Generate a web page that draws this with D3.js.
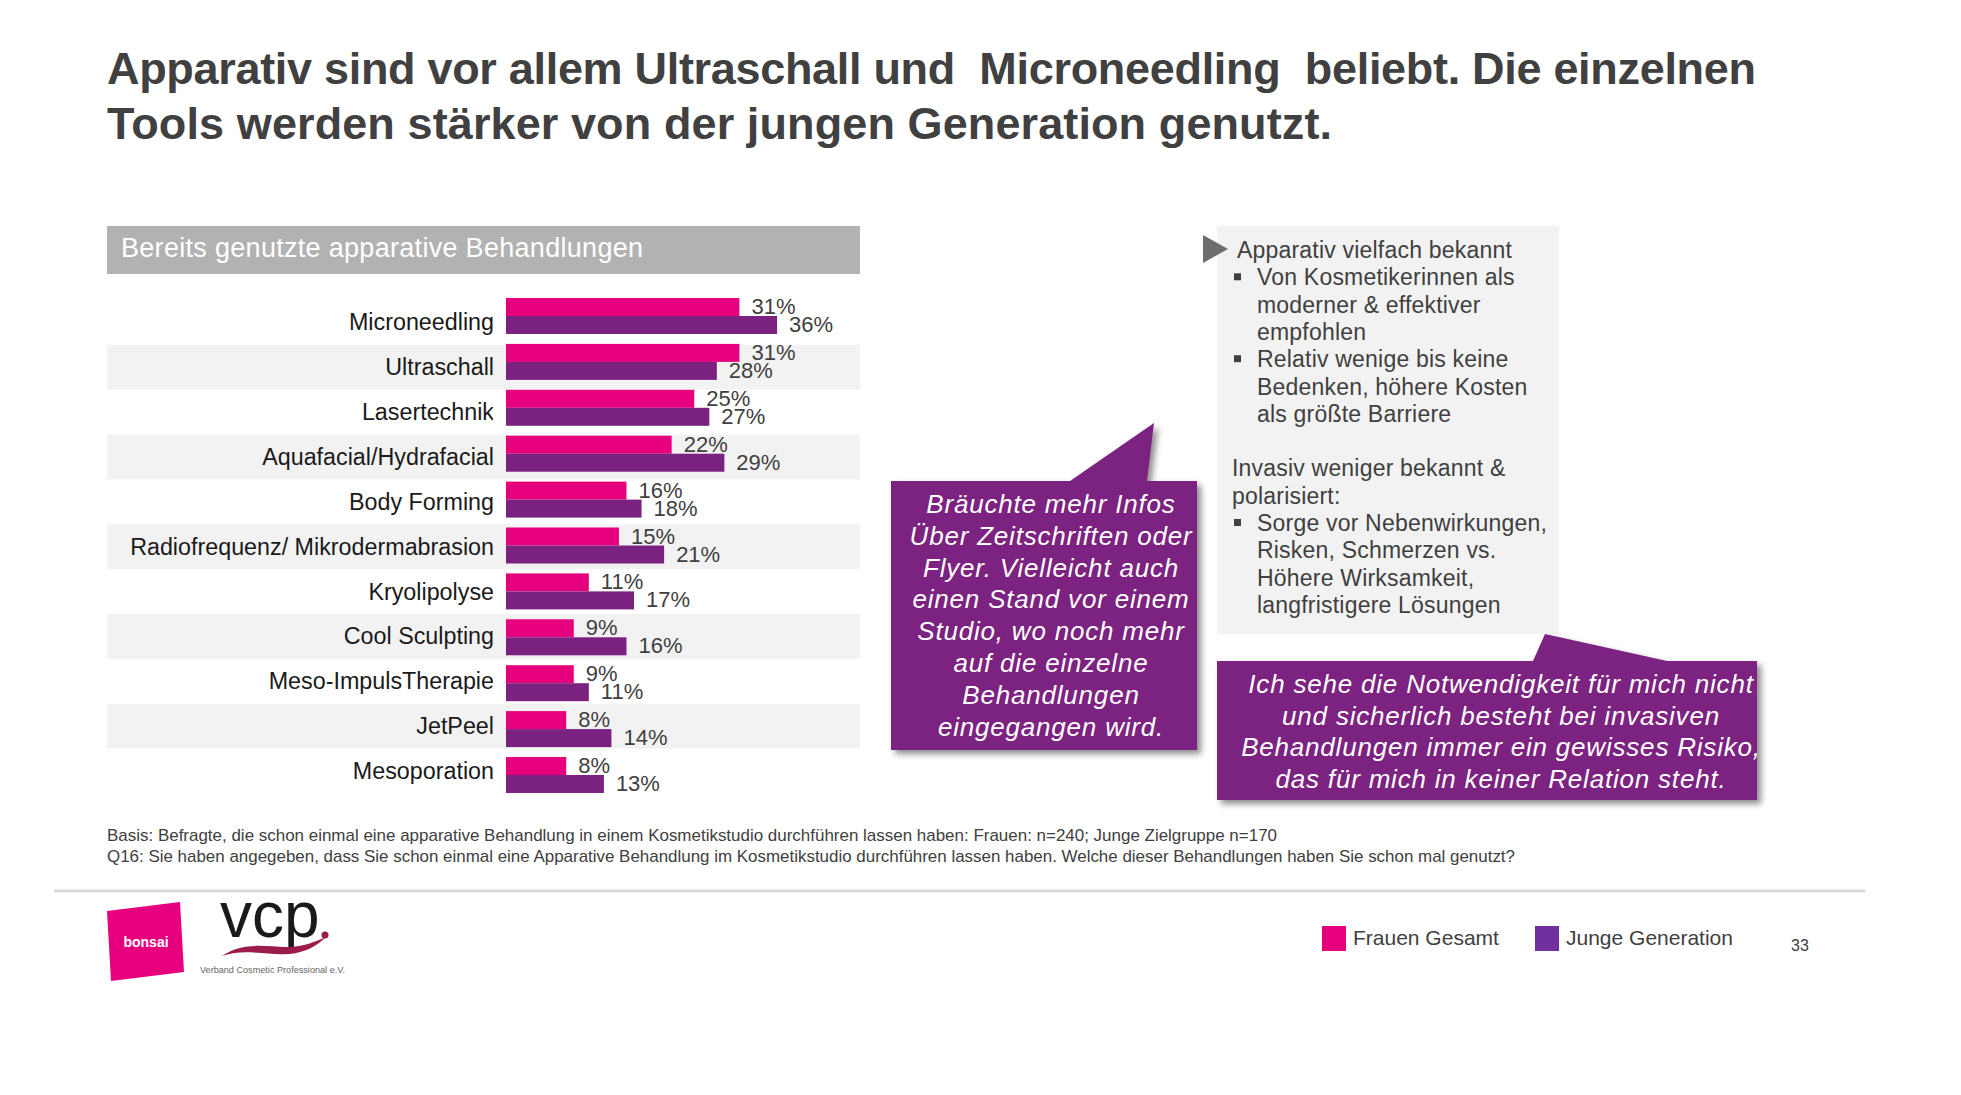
<!DOCTYPE html>
<html><head><meta charset="utf-8">
<script src="https://cdn.jsdelivr.net/npm/d3@7"></script>
<style>
body{margin:0;background:#fff;}
svg{display:block;font-family:"Liberation Sans",Arial,Helvetica,sans-serif;}
</style>
</head><body>
<svg id="chart" width="1961" height="1095"></svg>
<script>
// ---------- data ----------
const titleLines = [
  "Apparativ sind vor allem Ultraschall und  Microneedling  beliebt. Die einzelnen",
  "Tools werden stärker von der jungen Generation genutzt."
];
const panelTitle = "Bereits genutzte apparative Behandlungen";
const categories = ["Microneedling","Ultraschall","Lasertechnik","Aquafacial/Hydrafacial","Body Forming",
  "Radiofrequenz/ Mikrodermabrasion","Kryolipolyse","Cool Sculpting","Meso-ImpulsTherapie","JetPeel","Mesoporation"];
const seriesNames = ["Frauen Gesamt","Junge Generation"];
const frauenGesamt    = [31,31,25,22,16,15,11,9,9,8,8];
const jungeGeneration = [36,28,27,29,18,21,17,16,11,14,13];
const seriesColors = ["#E6007E","#7B2280"];
const legendColors = ["#E6007E","#7030A0"];
const infoLines = [
  ["h","Apparativ vielfach bekannt"],
  ["b","Von Kosmetikerinnen als"],
  ["c","moderner & effektiver"],
  ["c","empfohlen"],
  ["b","Relativ wenige bis keine"],
  ["c","Bedenken, höhere Kosten"],
  ["c","als größte Barriere"],
  ["",""],
  ["p","Invasiv weniger bekannt &"],
  ["p","polarisiert:"],
  ["b","Sorge vor Nebenwirkungen,"],
  ["c","Risken, Schmerzen vs."],
  ["c","Höhere Wirksamkeit,"],
  ["c","langfristigere Lösungen"]
];
const quote1 = ["Bräuchte mehr Infos","Über Zeitschriften oder","Flyer. Vielleicht auch","einen Stand vor einem",
  "Studio, wo noch mehr","auf die einzelne","Behandlungen","eingegangen wird."];
const quote2 = ["Ich sehe die Notwendigkeit für mich nicht","und sicherlich besteht bei invasiven",
  "Behandlungen immer ein gewisses Risiko,","das für mich in keiner Relation steht."];
const footnotes = [
  "Basis: Befragte, die schon einmal eine apparative Behandlung in einem Kosmetikstudio durchführen lassen haben: Frauen: n=240; Junge Zielgruppe n=170",
  "Q16: Sie haben angegeben, dass Sie schon einmal eine Apparative Behandlung im Kosmetikstudio durchführen lassen haben. Welche dieser Behandlungen haben Sie schon mal genutzt?"
];
const pageNumber = "33";

// ---------- drawing ----------
const svg = d3.select("#chart");
const TXT = "#404040";
const defs = svg.append("defs");
const f = defs.append("filter").attr("id","shadow").attr("x","-10%").attr("y","-10%").attr("width","130%").attr("height","130%");
f.append("feDropShadow").attr("dx",4).attr("dy",4).attr("stdDeviation",3).attr("flood-color","#000").attr("flood-opacity",0.45);
defs.append("clipPath").attr("id","labelClip").append("rect").attr("x",0).attr("y",280).attr("width",493).attr("height",560);

// title
const titleLen = [1649, 1225];
svg.append("g").selectAll("text").data(titleLines).join("text")
  .attr("x",107).attr("y",(d,i)=>84+i*55)
  .attr("font-size",45).attr("font-weight","bold").attr("fill",TXT)
  .attr("textLength",(d,i)=>titleLen[i]).attr("lengthAdjust","spacing")
  .style("white-space","pre").text(d=>d);

// panel header
svg.append("rect").attr("x",107).attr("y",226).attr("width",753).attr("height",48).attr("fill","#b2b2b2");
svg.append("text").attr("x",121).attr("y",257).attr("font-size",27).attr("letter-spacing",0.3)
  .attr("fill","#fff").text(panelTitle);

// scales
const rowY = d3.scaleBand().domain(categories).range([300, 300+11*44.85]);
const barY = d3.scaleBand().domain(categories).range([298, 298+11*45.9]);
const serY = d3.scaleBand().domain(seriesNames).range([0,36]);
const x = d3.scaleLinear().domain([0,100]).range([506, 506+753]);

// alternating bands
svg.append("g").selectAll("rect").data(categories.filter((d,i)=>i%2===1)).join("rect")
  .attr("x",107).attr("width",753).attr("y",d=>rowY(d)).attr("height",rowY.bandwidth()).attr("fill","#f2f2f2");

// category labels (clipped like the original)
svg.append("g").attr("clip-path","url(#labelClip)").selectAll("text").data(categories).join("text")
  .attr("x",494).attr("y",d=>rowY(d)+rowY.bandwidth()/2+8).attr("text-anchor","end")
  .attr("font-size",23.3).attr("fill","#1a1a1a").text(d=>d);

// bars
const series = [frauenGesamt, jungeGeneration];
const gBars = svg.append("g");
series.forEach((vals,si)=>{
  const name = seriesNames[si];
  gBars.append("g").selectAll("rect").data(vals).join("rect")
    .attr("x",x(0)).attr("y",(d,i)=>barY(categories[i])+serY(name))
    .attr("width",d=>x(d)-x(0)).attr("height",serY.bandwidth())
    .attr("fill",seriesColors[si]);
  gBars.append("g").selectAll("text").data(vals).join("text")
    .attr("x",d=>x(d)+12).attr("y",(d,i)=>barY(categories[i])+(si===0?16:34))
    .attr("font-size",22).attr("fill",TXT).text(d=>d+"%");
});

// callout 1
const c1 = d3.path();
c1.moveTo(891,481); c1.lineTo(1070,481); c1.lineTo(1154,423); c1.lineTo(1147,481);
c1.lineTo(1197,481); c1.lineTo(1197,750); c1.lineTo(891,750); c1.closePath();
svg.append("path").attr("d",c1.toString()).attr("fill","#7B2280").attr("filter","url(#shadow)");
svg.append("g").selectAll("text").data(quote1).join("text")
  .attr("x",1051).attr("y",(d,i)=>513+i*31.8).attr("text-anchor","middle")
  .attr("font-size",26).attr("font-style","italic").attr("letter-spacing",0.8).attr("fill","#fff").text(d=>d);

// info box
svg.append("rect").attr("x",1217).attr("y",226).attr("width",342).attr("height",408).attr("fill","#f2f2f2");
svg.append("path").attr("d","M1203,235 L1228,249 L1203,263 Z").attr("fill","#6d6d6d");
const gInfo = svg.append("g");
infoLines.forEach((l,i)=>{
  const base = 258 + i*27.3;
  if (l[0]==="b") gInfo.append("rect").attr("x",1234).attr("y",base-12).attr("width",7).attr("height",7).attr("fill","#404040");
  if (!l[1]) return;
  const xx = l[0]==="h" ? 1237 : (l[0]==="p" ? 1232 : 1257);
  gInfo.append("text").attr("x",xx).attr("y",base).attr("font-size",23).attr("letter-spacing",0.2)
    .attr("fill",TXT).text(l[1]);
});

// callout 2
const c2 = d3.path();
c2.moveTo(1217,661); c2.lineTo(1533,661); c2.lineTo(1545,634); c2.lineTo(1667,661);
c2.lineTo(1757,661); c2.lineTo(1757,800); c2.lineTo(1217,800); c2.closePath();
svg.append("path").attr("d",c2.toString()).attr("fill","#7B2280").attr("filter","url(#shadow)");
svg.append("g").selectAll("text").data(quote2).join("text")
  .attr("x",1501).attr("y",(d,i)=>693+i*31.6).attr("text-anchor","middle")
  .attr("font-size",26).attr("font-style","italic").attr("letter-spacing",0.8).attr("fill","#fff").text(d=>d);

// footnotes
const fnLen = [1170, 1408];
svg.append("g").selectAll("text").data(footnotes).join("text")
  .attr("x",107).attr("y",(d,i)=>841+i*21).attr("font-size",17)
  .attr("textLength",(d,i)=>fnLen[i]).attr("lengthAdjust","spacingAndGlyphs")
  .attr("fill",TXT).text(d=>d);

// separator
svg.append("line").attr("x1",54).attr("x2",1865).attr("y1",891).attr("y2",891).attr("stroke","#d9d9d9").attr("stroke-width",3);

// logos
svg.append("path").attr("d","M107,911 L180,902 L184,972 L111,981 Z").attr("fill","#E6007E");
svg.append("text").attr("x",146).attr("y",947).attr("text-anchor","middle").attr("font-size",14)
  .attr("font-weight","bold").attr("fill","#fff").text("bonsai");
svg.append("text").attr("x",220).attr("y",937).attr("font-size",64).attr("fill","#1a1a1a").text("vcp");
svg.append("circle").attr("cx",325).attr("cy",935).attr("r",3.5).attr("fill","#9b1b4b");
svg.append("path").attr("d","M222,956 C245,940 270,948 290,947 C305,946 315,942 326,937 C316,947 303,953 289,954 C268,956 246,948 222,956 Z")
  .attr("fill","#9b1b4b");
svg.append("text").attr("x",200).attr("y",973).attr("font-size",9).attr("textLength",145)
  .attr("lengthAdjust","spacingAndGlyphs").attr("fill","#666").text("Verband Cosmetic Professional e.V.");

// legend
const lx = [1322, 1535];
const gLeg = svg.append("g");
seriesNames.forEach((n,i)=>{
  gLeg.append("rect").attr("x",lx[i]).attr("y",926).attr("width",24).attr("height",25).attr("fill",legendColors[i]);
  gLeg.append("text").attr("x",lx[i]+31).attr("y",945).attr("font-size",21)
    .attr("fill",TXT).text(n);
});
svg.append("text").attr("x",1791).attr("y",951).attr("font-size",16).attr("fill",TXT).text(pageNumber);
</script>
</body></html>
